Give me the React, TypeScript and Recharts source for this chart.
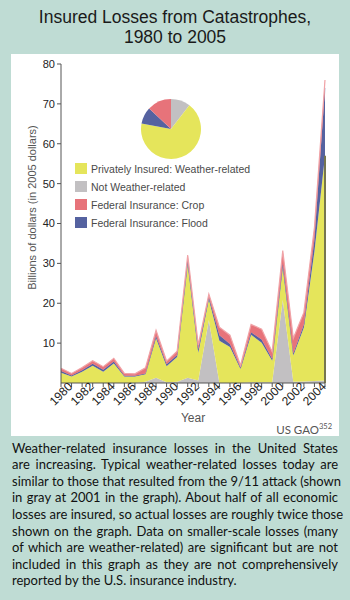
import React from 'react';
import { AreaChart, Area, XAxis, YAxis, PieChart, Pie, Cell, ReferenceLine } from 'recharts';

const years = ['1980','1981','1982','1983','1984','1985','1986','1987','1988','1989','1990','1991','1992','1993','1994','1995','1996','1997','1998','1999','2000','2001','2002','2003','2004','2005'];
const notWeather = [0,0,0,0,0,0,0,0,0.3,1.3,0.2,0.3,1.3,0.6,15.8,0,0,0,0.2,0.2,0.2,20.8,0.3,0.4,0.5,0.6];
const privateWeather = [2.6,1.6,2.8,4.3,2.8,4.9,1.6,1.6,1.9,9.9,4.0,6.2,28.5,7.0,5.2,10.6,9.0,3.5,11.9,9.9,5.4,8.2,6.6,13.5,32.5,56.4];
const federalFlood = [0.4,0.3,0.4,0.5,0.5,0.5,0.2,0.2,0.2,0.6,0.5,0.5,0.8,0.8,0.5,1.4,0.8,0.3,0.6,0.8,0.4,1.0,0.5,0.8,3,17];
const federalCrop = [0.7,0.5,0.7,0.8,0.8,0.8,0.6,0.5,1.4,1.4,0.8,1.0,1.5,1.1,0.8,2.0,2.2,0.6,2.0,2.6,1.8,3.2,3.8,3.0,3,2];

const pieLabels = ['Not Weather-related','Privately Insured: Weather-related','Federal Insurance: Flood','Federal Insurance: Crop'];
const pieShares = [10.5, 67.5, 9, 13];

const legendLabels = ['Privately Insured: Weather-related','Not Weather-related','Federal Insurance: Crop','Federal Insurance: Flood'];
const yTicks = [10,20,30,40,50,60,70,80];

const captionLines = [
  'Weather-related insurance losses in the United States',
  'are increasing. Typical weather-related losses today are',
  'similar to those that resulted from the 9/11 attack (shown',
  'in gray at 2001 in the graph). About half of all economic',
  'losses are insured, so actual losses are roughly twice those',
  'shown on the graph. Data on smaller-scale losses (many',
  'of which are weather-related) are significant but are not',
  'included in this graph as they are not comprehensively',
  'reported by the U.S. insurance industry.',
];

const BG = '#bfdcd4';
const YELLOW = '#e5e55b';
const GRAY = '#c2c0c2';
const RED = '#e7737a';
const BLUE = '#5562a0';

const colorByLabel: Record<string, string> = {
  'Privately Insured: Weather-related': YELLOW,
  'Not Weather-related': GRAY,
  'Federal Insurance: Crop': RED,
  'Federal Insurance: Flood': BLUE,
};

const data = years.map((year, i) => ({
  year,
  notWeather: notWeather[i],
  privateWeather: privateWeather[i],
  flood: federalFlood[i],
  crop: federalCrop[i],
}));

const pieData = pieLabels.map((name, i) => ({ name, value: pieShares[i] }));

const AXIS_FONT = "'Liberation Sans', Arial, sans-serif";

const XTick = (props: any) => {
  const { x, y, payload } = props;
  const yr = Number(payload.value);
  if (yr % 2 !== 0 || yr > 2004) return <g />;
  const cy = y + 5;
  return (
    <text x={x} y={cy} transform={`rotate(-45 ${x} ${cy})`} textAnchor="middle" dominantBaseline="central"
      fontSize={12} fill="#222" fontFamily={AXIS_FONT}>{payload.value}</text>
  );
};

const YLabel = (props: any) => {
  const vb = props.viewBox || { x: 10, y: 10, width: 40, height: 319 };
  const cx = vb.x + 11;
  const cy = vb.y + vb.height / 2 - 16;
  return (
    <text x={cx} y={cy} transform={`rotate(-90 ${cx} ${cy})`} textAnchor="middle" dominantBaseline="central"
      fontSize={11} fill="#555" fontFamily={AXIS_FONT}>Billions of dollars (in 2005 dollars)</text>
  );
};

const XLabel = (props: any) => {
  const vb = props.viewBox || { x: 50, y: 329, width: 264, height: 40 };
  const cx = vb.x + vb.width / 2;
  return (
    <text x={cx} y={vb.y + 39} textAnchor="middle" fontSize={12} fill="#555" fontFamily={AXIS_FONT}>Year</text>
  );
};

export default function App() {
  const last = years.length - 1;
  return (
    <div style={{ position: 'absolute', left: 0, top: 0, width: 350, height: 600, background: BG, overflow: 'hidden' }}>
      <div style={{ position: 'absolute', left: 0, top: 6.7, width: 350, textAlign: 'center', fontFamily: AXIS_FONT, fontSize: 17.5, lineHeight: '20.5px', color: '#1a1a1a' }}>
        <div>Insured Losses from Catastrophes,</div>
        <div>1980 to 2005</div>
      </div>
      <div style={{ position: 'absolute', left: 11, top: 54, width: 328, height: 382, background: '#fff' }}>
        <AreaChart width={328} height={382} data={data} margin={{ top: 10, right: 14, left: 10, bottom: 13 }}>
          <XAxis dataKey="year" interval={0} tick={<XTick />} tickSize={4} tickLine={{ stroke: '#555' }}
            axisLine={{ stroke: '#555' }} height={40} label={<XLabel />} />
          <YAxis domain={[0, 80]} ticks={yTicks} width={40} tickSize={4} tickLine={{ stroke: '#555' }}
            axisLine={{ stroke: '#555' }} tick={{ fontSize: 11, fill: '#222', fontFamily: AXIS_FONT }}
            label={<YLabel />} />
          <Area type="linear" dataKey="notWeather" stackId="a" fill={GRAY} stroke="none" fillOpacity={1} isAnimationActive={false} />
          <Area type="linear" dataKey="privateWeather" stackId="a" fill={YELLOW} stroke="none" fillOpacity={1} isAnimationActive={false} />
          <Area type="linear" dataKey="flood" stackId="a" fill={BLUE} stroke={BLUE} strokeWidth={0.5} fillOpacity={1} isAnimationActive={false} />
          <Area type="linear" dataKey="crop" stackId="a" fill={RED} stroke="#f0a3a7" strokeWidth={1.2} fillOpacity={1} isAnimationActive={false} />
          <ReferenceLine segment={[{ x: years[last], y: 0 }, { x: years[last], y: notWeather[last] + privateWeather[last] }]}
            stroke="#76764f" strokeWidth={2} />
        </AreaChart>
        <div style={{ position: 'absolute', left: 114.7, top: 30, width: 80, height: 80 }}>
          <PieChart width={80} height={80}>
            <Pie data={pieData} dataKey="value" cx={40} cy={40} outerRadius={30} innerRadius={0} startAngle={90} endAngle={-270}
              stroke="none" isAnimationActive={false}>
              {pieData.map((d) => <Cell key={d.name} fill={colorByLabel[d.name]} />)}
            </Pie>
          </PieChart>
        </div>
        {legendLabels.map((lab, i) => (
          <div key={lab} style={{ position: 'absolute', left: 64, top: 108.5 + i * 18, height: 12, display: 'flex', alignItems: 'center', fontFamily: AXIS_FONT, fontSize: 10.5, color: '#4a4a4a', whiteSpace: 'nowrap' }}>
            <div style={{ width: 12, height: 11, background: colorByLabel[lab], marginRight: 4 }} />
            <span>{lab}</span>
          </div>
        ))}
        <div style={{ position: 'absolute', right: 7, top: 368, fontFamily: 'Lato, sans-serif', fontSize: 11.5, color: '#555', whiteSpace: 'nowrap' }}>
          US GAO<sup style={{ fontSize: 7.5 }}>352</sup>
        </div>
      </div>
      <div style={{ position: 'absolute', left: 12, top: 439.7, width: 326, fontFamily: 'Lato, sans-serif', fontSize: 13, lineHeight: '16.6px', color: '#111' }}>
        {captionLines.map((line, i) => (
          <div key={i} style={{ textAlign: 'justify', textAlignLast: i === captionLines.length - 1 ? 'left' : 'justify', whiteSpace: 'nowrap' as any }}>{line}</div>
        ))}
      </div>
    </div>
  );
}
